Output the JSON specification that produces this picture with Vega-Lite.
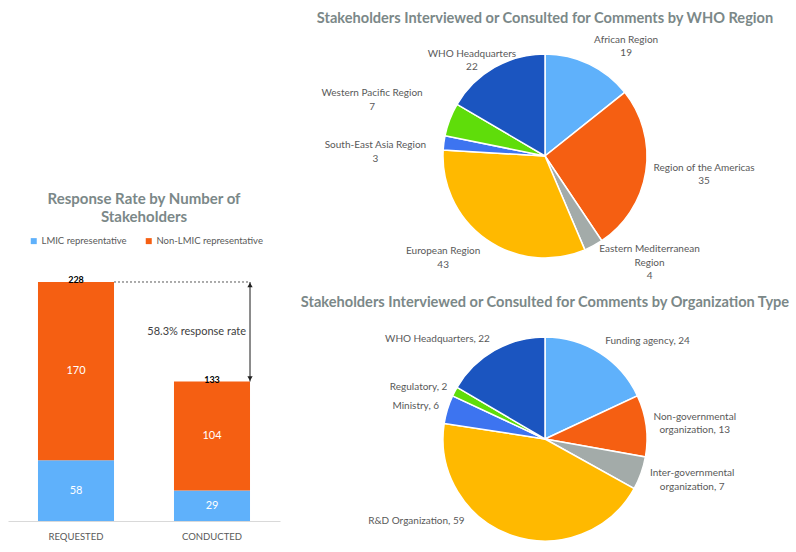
{
  "$schema": "https://vega.github.io/schema/vega-lite/v6.json",
  "padding": {"left": 8, "top": 10, "right": 0, "bottom": 0},
  "background": "white",
  "config": {"view": {"stroke": null}, "font": "Lato"},
  "datasets": {
    "bars": [
      {"stage": "REQUESTED", "group": "LMIC representative", "n": 58},
      {"stage": "REQUESTED", "group": "Non-LMIC representative", "n": 170},
      {"stage": "CONDUCTED", "group": "LMIC representative", "n": 29},
      {"stage": "CONDUCTED", "group": "Non-LMIC representative", "n": 104}
    ],
    "totals": [
      {"stage": "REQUESTED", "total": 228},
      {"stage": "CONDUCTED", "total": 133}
    ],
    "reference": [
      {"stage": "REQUESTED", "level": 228},
      {"stage": "CONDUCTED", "level": 228}
    ],
    "response": [
      {"stage": "CONDUCTED", "level": 228, "end": "top", "note": "58.3% response rate"},
      {"stage": "CONDUCTED", "level": 133, "end": "bottom", "note": "58.3% response rate"}
    ],
    "regions": [
      {"region": "African Region", "value": 19, "label": "African Region\n19"},
      {"region": "Region of the Americas", "value": 35, "label": "Region of the Americas\n35"},
      {"region": "Eastern Mediterranean Region", "value": 4, "label": "Eastern Mediterranean\nRegion\n4"},
      {"region": "European Region", "value": 43, "label": "European Region\n43"},
      {"region": "South-East Asia Region", "value": 3, "label": "South-East Asia Region\n3"},
      {"region": "Western Pacific Region", "value": 7, "label": "Western Pacific Region\n7"},
      {"region": "WHO Headquarters", "value": 22, "label": "WHO Headquarters\n22"}
    ],
    "orgs": [
      {"org": "Funding agency", "value": 24, "label": "Funding agency, 24"},
      {"org": "Non-governmental organization", "value": 13, "label": "Non-governmental\norganization, 13"},
      {"org": "Inter-governmental organization", "value": 7, "label": "Inter-governmental\norganization, 7"},
      {"org": "R&D Organization", "value": 59, "label": "R&D Organization, 59"},
      {"org": "Ministry", "value": 6, "label": "Ministry, 6"},
      {"org": "Regulatory", "value": 2, "label": "Regulatory, 2"},
      {"org": "WHO Headquarters", "value": 22, "label": "WHO Headquarters, 22"}
    ]
  },
  "bounds": "flush",
  "spacing": 65,
  "resolve": {"scale": {"color": "independent", "theta": "independent"}},
  "hconcat": [
    {
      "width": 272,
      "height": 467,
      "title": {"text": ["Response Rate by Number of", "Stakeholders"], "fontSize": 15, "fontWeight": "bold", "color": "#7b8888", "frame": "group", "anchor": "middle", "dy": 175, "lineHeight": 18},
      "layer": [
        {
          "data": {"name": "bars"},
          "mark": {"type": "bar"},
          "encoding": {
            "x": {"field": "stage", "type": "nominal", "scale": {"domain": ["REQUESTED", "CONDUCTED"], "paddingInner": 0.441, "paddingOuter": 0.2205},
              "axis": {"title": null, "labelAngle": 0, "ticks": false, "domainColor": "#d9d9d9", "labelColor": "#595959", "labelFontSize": 9.5, "labelPadding": 10}},
            "y": {"field": "n", "type": "quantitative", "stack": "zero", "scale": {"domain": [0, 445.5], "nice": false}, "axis": null},
            "color": {"field": "group", "type": "nominal", "scale": {"domain": ["LMIC representative", "Non-LMIC representative"], "range": ["#5fb1fb", "#f55f12"]},
              "legend": {"orient": "none", "legendX": 21, "legendY": 182, "direction": "horizontal", "title": null, "symbolType": "square", "symbolSize": 36, "labelFontSize": 9.5, "labelColor": "#595959", "columnPadding": 17, "labelOffset": 3, "symbolStrokeWidth": 0}},
            "order": {"field": "group", "sort": "ascending"}
          }
        },
        {
          "data": {"name": "bars"},
          "mark": {"type": "text", "color": "white", "fontSize": 11, "baseline": "middle"},
          "encoding": {
            "x": {"field": "stage", "type": "nominal"},
            "y": {"field": "n", "type": "quantitative", "stack": "zero", "bandPosition": 0.5},
            "detail": {"field": "group"},
            "order": {"field": "group", "sort": "ascending"},
            "text": {"field": "n"}
          }
        },
        {
          "data": {"name": "totals"},
          "mark": {"type": "text", "fontSize": 9, "fontWeight": "bold", "color": "#000000", "baseline": "middle", "dy": -1.5},
          "encoding": {
            "x": {"field": "stage", "type": "nominal"},
            "y": {"field": "total", "type": "quantitative"},
            "text": {"field": "total"}
          }
        },
        {
          "data": {"name": "reference"},
          "mark": {"type": "line", "strokeDash": [2, 2], "color": "#595959", "strokeWidth": 1},
          "encoding": {
            "x": {"field": "stage", "type": "nominal", "bandPosition": 1},
            "y": {"field": "level", "type": "quantitative"}
          }
        },
        {
          "data": {"name": "response"},
          "mark": {"type": "rule", "color": "#404040", "strokeWidth": 1.2},
          "encoding": {
            "x": {"field": "stage", "type": "nominal", "bandPosition": 1},
            "y": {"aggregate": "max", "field": "level", "type": "quantitative"},
            "y2": {"aggregate": "min", "field": "level"}
          }
        },
        {
          "data": {"name": "response"},
          "transform": [{"filter": "datum.end === 'top'"}],
          "mark": {"type": "point", "shape": "triangle-up", "filled": true, "color": "#222222", "opacity": 1, "size": 28, "yOffset": 3},
          "encoding": {
            "x": {"field": "stage", "type": "nominal", "bandPosition": 1},
            "y": {"field": "level", "type": "quantitative"}
          }
        },
        {
          "data": {"name": "response"},
          "transform": [{"filter": "datum.end === 'bottom'"}],
          "mark": {"type": "point", "shape": "triangle-down", "filled": true, "color": "#222222", "opacity": 1, "size": 28, "yOffset": -3},
          "encoding": {
            "x": {"field": "stage", "type": "nominal", "bandPosition": 1},
            "y": {"field": "level", "type": "quantitative"}
          }
        },
        {
          "data": {"name": "response"},
          "mark": {"type": "text", "align": "right", "baseline": "middle", "dx": -4, "fontSize": 11, "color": "#404040"},
          "encoding": {
            "x": {"field": "stage", "type": "nominal", "bandPosition": 1},
            "y": {"aggregate": "mean", "field": "level", "type": "quantitative"},
            "text": {"field": "note"}
          }
        }
      ]
    },
    {
      "bounds": "flush",
      "spacing": 79,
      "resolve": {"scale": {"color": "independent", "theta": "independent"}},
      "vconcat": [
        {
          "width": 400,
          "height": 204,
          "title": {"text": "Stakeholders Interviewed or Consulted for Comments by WHO Region", "fontSize": 14.6, "fontWeight": "bold", "color": "#7b8888", "frame": "group", "anchor": "middle", "offset": 9},
          "data": {"name": "regions"},
          "transform": [{"stack": "value", "groupby": [], "as": ["v0", "v1"]}],
          "layer": [
            {
              "mark": {"type": "arc", "outerRadius": 102, "stroke": "white", "strokeWidth": 1.5},
              "encoding": {
                "theta": {"field": "v0", "type": "quantitative", "scale": {"domain": [0, 133]}},
                "theta2": {"field": "v1"},
                "color": {"field": "region", "type": "nominal", "legend": null,
                  "scale": {"domain": ["African Region", "Region of the Americas", "Eastern Mediterranean Region", "European Region", "South-East Asia Region", "Western Pacific Region", "WHO Headquarters"],
                    "range": ["#5fb1fb", "#f55f12", "#a3aba9", "#ffb900", "#3d74f0", "#5fdd0a", "#1b55c0"]}}
              }
            },
            {
              "transform": [{"filter": "datum.region === 'African Region'"}, {"fold": ["v0", "v1"], "as": ["edge", "angle"]}],
              "mark": {"type": "text", "radius": 134, "dx": 23, "dy": 4.25, "align": "center", "baseline": "middle", "lineBreak": "\n", "lineHeight": 13.5, "fontSize": 10, "color": "#595959"},
              "encoding": {"theta": {"aggregate": "mean", "field": "angle", "type": "quantitative"}, "text": {"field": "label", "type": "nominal"}}
            },
            {
              "transform": [{"filter": "datum.region === 'Region of the Americas'"}, {"fold": ["v0", "v1"], "as": ["edge", "angle"]}],
              "mark": {"type": "text", "radius": 160, "dx": 1, "dy": -12.75, "align": "center", "baseline": "middle", "lineBreak": "\n", "lineHeight": 13.5, "fontSize": 10, "color": "#595959"},
              "encoding": {"theta": {"aggregate": "mean", "field": "angle", "type": "quantitative"}, "text": {"field": "label", "type": "nominal"}}
            },
            {
              "transform": [{"filter": "datum.region === 'Eastern Mediterranean Region'"}, {"fold": ["v0", "v1"], "as": ["edge", "angle"]}],
              "mark": {"type": "text", "radius": 144, "dx": 36, "dy": -33.5, "align": "center", "baseline": "middle", "lineBreak": "\n", "lineHeight": 13.5, "fontSize": 10, "color": "#595959"},
              "encoding": {"theta": {"aggregate": "mean", "field": "angle", "type": "quantitative"}, "text": {"field": "label", "type": "nominal"}}
            },
            {
              "transform": [{"filter": "datum.region === 'European Region'"}, {"fold": ["v0", "v1"], "as": ["edge", "angle"]}],
              "mark": {"type": "text", "radius": 142, "dx": -20, "dy": -20.75, "align": "center", "baseline": "middle", "lineBreak": "\n", "lineHeight": 13.5, "fontSize": 10, "color": "#595959"},
              "encoding": {"theta": {"aggregate": "mean", "field": "angle", "type": "quantitative"}, "text": {"field": "label", "type": "nominal"}}
            },
            {
              "transform": [{"filter": "datum.region === 'South-East Asia Region'"}, {"fold": ["v0", "v1"], "as": ["edge", "angle"]}],
              "mark": {"type": "text", "radius": 169, "dx": -2, "dy": 11.25, "align": "center", "baseline": "middle", "lineBreak": "\n", "lineHeight": 13.5, "fontSize": 10, "color": "#595959"},
              "encoding": {"theta": {"aggregate": "mean", "field": "angle", "type": "quantitative"}, "text": {"field": "label", "type": "nominal"}}
            },
            {
              "transform": [{"filter": "datum.region === 'Western Pacific Region'"}, {"fold": ["v0", "v1"], "as": ["edge", "angle"]}],
              "mark": {"type": "text", "radius": 182, "dx": -3, "dy": 2.25, "align": "center", "baseline": "middle", "lineBreak": "\n", "lineHeight": 13.5, "fontSize": 10, "color": "#595959"},
              "encoding": {"theta": {"aggregate": "mean", "field": "angle", "type": "quantitative"}, "text": {"field": "label", "type": "nominal"}}
            },
            {
              "transform": [{"filter": "datum.region === 'WHO Headquarters'"}, {"fold": ["v0", "v1"], "as": ["edge", "angle"]}],
              "mark": {"type": "text", "radius": 119, "dx": -14, "dy": 1.25, "align": "center", "baseline": "middle", "lineBreak": "\n", "lineHeight": 13.5, "fontSize": 10, "color": "#595959"},
              "encoding": {"theta": {"aggregate": "mean", "field": "angle", "type": "quantitative"}, "text": {"field": "label", "type": "nominal"}}
            }
          ]
        },
        {
          "width": 400,
          "height": 204,
          "title": {"text": "Stakeholders Interviewed or Consulted for Comments by Organization Type", "fontSize": 14.6, "fontWeight": "bold", "color": "#7b8888", "frame": "group", "anchor": "middle", "offset": 24},
          "data": {"name": "orgs"},
          "transform": [{"stack": "value", "groupby": [], "as": ["v0", "v1"]}],
          "layer": [
            {
              "mark": {"type": "arc", "outerRadius": 102, "stroke": "white", "strokeWidth": 1.5},
              "encoding": {
                "theta": {"field": "v0", "type": "quantitative", "scale": {"domain": [0, 133]}},
                "theta2": {"field": "v1"},
                "color": {"field": "org", "type": "nominal", "legend": null,
                  "scale": {"domain": ["Funding agency", "Non-governmental organization", "Inter-governmental organization", "R&D Organization", "Ministry", "Regulatory", "WHO Headquarters"],
                    "range": ["#5fb1fb", "#f55f12", "#a3aba9", "#ffb900", "#3d74f0", "#5fdd0a", "#1b55c0"]}}
              }
            },
            {
              "transform": [{"filter": "datum.org === 'Funding agency'"}, {"fold": ["v0", "v1"], "as": ["edge", "angle"]}],
              "mark": {"type": "text", "radius": 137, "dx": 29, "dy": 18, "align": "center", "baseline": "middle", "lineBreak": "\n", "lineHeight": 13.5, "fontSize": 10, "color": "#595959"},
              "encoding": {"theta": {"aggregate": "mean", "field": "angle", "type": "quantitative"}, "text": {"field": "label", "type": "nominal"}}
            },
            {
              "transform": [{"filter": "datum.org === 'Non-governmental organization'"}, {"fold": ["v0", "v1"], "as": ["edge", "angle"]}],
              "mark": {"type": "text", "radius": 151, "dx": 0, "dy": -2.75, "align": "center", "baseline": "middle", "lineBreak": "\n", "lineHeight": 13.5, "fontSize": 10, "color": "#595959"},
              "encoding": {"theta": {"aggregate": "mean", "field": "angle", "type": "quantitative"}, "text": {"field": "label", "type": "nominal"}}
            },
            {
              "transform": [{"filter": "datum.org === 'Inter-governmental organization'"}, {"fold": ["v0", "v1"], "as": ["edge", "angle"]}],
              "mark": {"type": "text", "radius": 152, "dx": 4, "dy": -16.75, "align": "center", "baseline": "middle", "lineBreak": "\n", "lineHeight": 13.5, "fontSize": 10, "color": "#595959"},
              "encoding": {"theta": {"aggregate": "mean", "field": "angle", "type": "quantitative"}, "text": {"field": "label", "type": "nominal"}}
            },
            {
              "transform": [{"filter": "datum.org === 'R&D Organization'"}, {"fold": ["v0", "v1"], "as": ["edge", "angle"]}],
              "mark": {"type": "text", "radius": 119, "dx": -90, "dy": -31, "align": "center", "baseline": "middle", "lineBreak": "\n", "lineHeight": 13.5, "fontSize": 10, "color": "#595959"},
              "encoding": {"theta": {"aggregate": "mean", "field": "angle", "type": "quantitative"}, "text": {"field": "label", "type": "nominal"}}
            },
            {
              "transform": [{"filter": "datum.org === 'Ministry'"}, {"fold": ["v0", "v1"], "as": ["edge", "angle"]}],
              "mark": {"type": "text", "radius": 133, "dx": -2, "dy": 6, "align": "center", "baseline": "middle", "lineBreak": "\n", "lineHeight": 13.5, "fontSize": 10, "color": "#595959"},
              "encoding": {"theta": {"aggregate": "mean", "field": "angle", "type": "quantitative"}, "text": {"field": "label", "type": "nominal"}}
            },
            {
              "transform": [{"filter": "datum.org === 'Regulatory'"}, {"fold": ["v0", "v1"], "as": ["edge", "angle"]}],
              "mark": {"type": "text", "radius": 136, "dx": -6, "dy": 11, "align": "center", "baseline": "middle", "lineBreak": "\n", "lineHeight": 13.5, "fontSize": 10, "color": "#595959"},
              "encoding": {"theta": {"aggregate": "mean", "field": "angle", "type": "quantitative"}, "text": {"field": "label", "type": "nominal"}}
            },
            {
              "transform": [{"filter": "datum.org === 'WHO Headquarters'"}, {"fold": ["v0", "v1"], "as": ["edge", "angle"]}],
              "mark": {"type": "text", "radius": 140, "dx": -38, "dy": 22, "align": "center", "baseline": "middle", "lineBreak": "\n", "lineHeight": 13.5, "fontSize": 10, "color": "#595959"},
              "encoding": {"theta": {"aggregate": "mean", "field": "angle", "type": "quantitative"}, "text": {"field": "label", "type": "nominal"}}
            }
          ]
        }
      ]
    }
  ]
}
